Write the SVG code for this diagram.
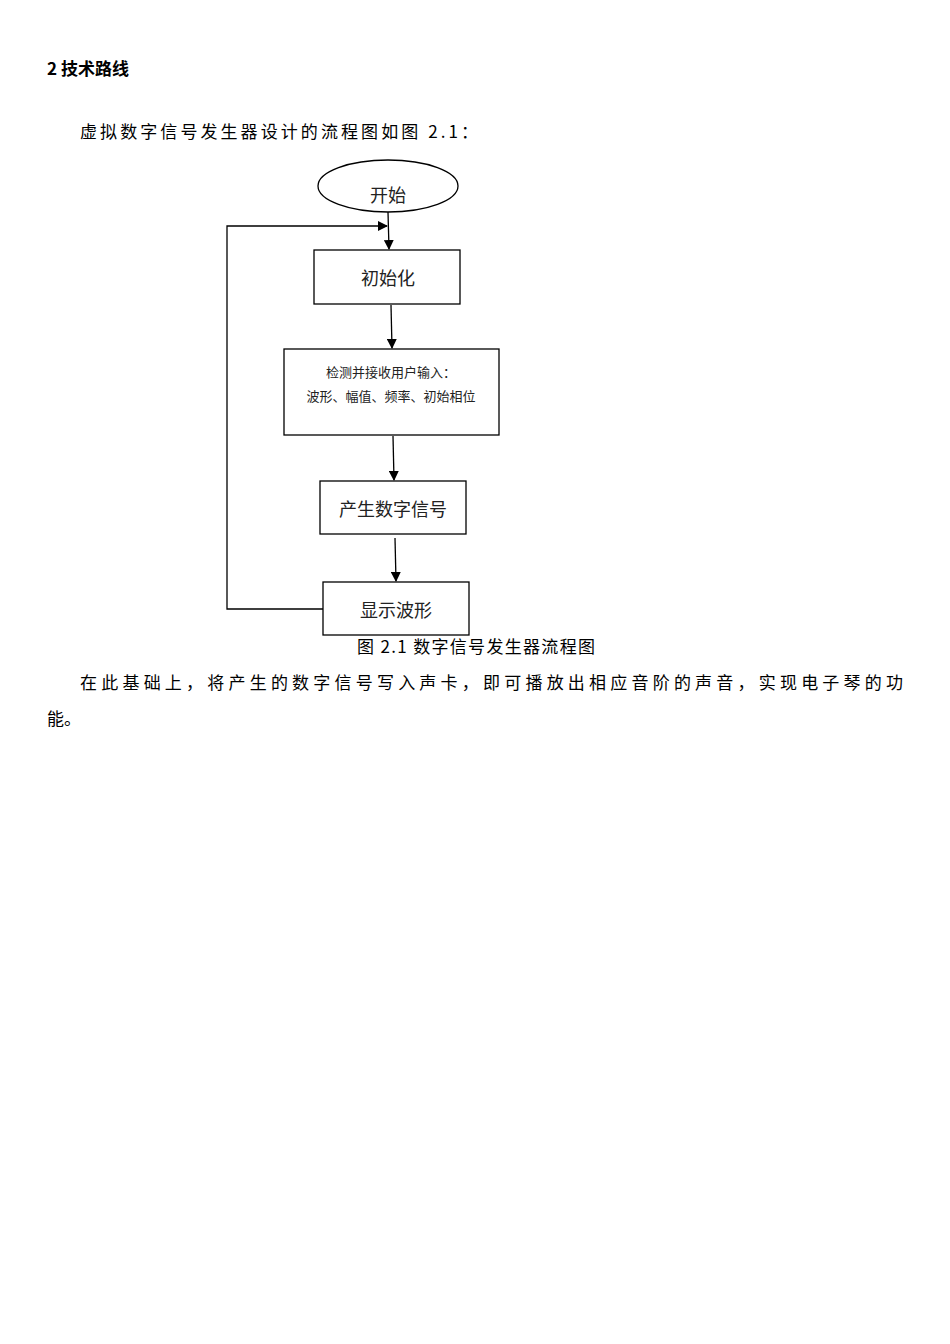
<svg xmlns="http://www.w3.org/2000/svg" width="950" height="1344" viewBox="0 0 950 1344">
<style>
.b{fill:#fff;stroke:#000;stroke-width:1.3}
.t{font-family:"Noto Sans CJK SC",sans-serif;font-size:17px;fill:#000}
.n{font-family:"Noto Sans CJK SC",serif;fill:#222;text-anchor:middle}
.c{stroke:#000;stroke-width:1.3;fill:none}
</style>
<defs><marker id="a" markerWidth="10" markerHeight="10" refX="9" refY="5" orient="auto" markerUnits="userSpaceOnUse"><path d="M0,0L10,5L0,10z" fill="#000"/></marker></defs>
<text x="47" y="75" class="t" font-weight="bold" font-size="19">2 技术路线</text>
<text x="80" y="138" class="t" textLength="398" lengthAdjust="spacing">虚拟数字信号发生器设计的流程图如图 2.1：</text>
<g id="start"><ellipse cx="388" cy="186" rx="70" ry="26" class="b"/><text x="388" y="202" class="n" font-size="18">开始</text></g>
<g id="init"><rect x="314" y="250" width="146" height="54" class="b"/><text x="388" y="285" class="n" font-size="18">初始化</text></g>
<g id="detect"><rect x="284" y="349" width="215" height="86" class="b"/><text x="391" y="377" class="n" font-size="13">检测并接收用户输入：</text><text x="391" y="401" class="n" font-size="13">波形、幅值、频率、初始相位</text></g>
<g id="gen"><rect x="320" y="481" width="146" height="53" class="b"/><text x="393" y="516" class="n" font-size="18">产生数字信号</text></g>
<g id="show"><rect x="323" y="582" width="146" height="53" class="b"/><text x="396" y="617" class="n" font-size="18">显示波形</text></g>
<g id="connectors">
<path class="c" d="M388,212L389,249" marker-end="url(#a)"/>
<path class="c" d="M391,305L392,348" marker-end="url(#a)"/>
<path class="c" d="M393,436L394,480" marker-end="url(#a)"/>
<path class="c" d="M395,538L396,581" marker-end="url(#a)"/>
<path class="c" d="M323,609H227V226H387" marker-end="url(#a)"/>
</g>
<text x="357" y="653" class="t" font-size="15" textLength="238" lengthAdjust="spacing">图 2.1 数字信号发生器流程图</text>
<text x="80" y="689" class="t" textLength="823" lengthAdjust="spacing">在此基础上，将产生的数字信号写入声卡，即可播放出相应音阶的声音，实现电子琴的功</text>
<text x="47" y="725" class="t">能。</text>
</svg>
